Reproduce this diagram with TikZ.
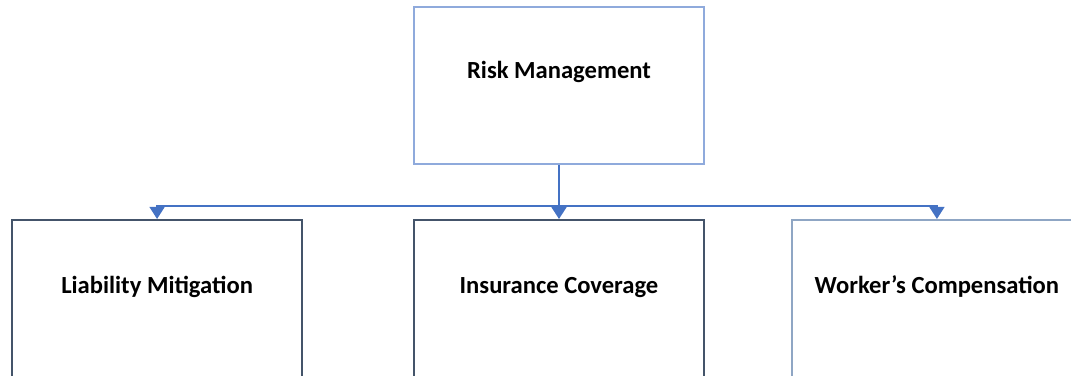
\documentclass[tikz,border=0pt]{standalone}
\usepackage{fontspec}
\setmainfont{Carlito}
\usepackage{tikz}
\usetikzlibrary{arrows.meta,positioning,calc}
\definecolor{topblue}{HTML}{8FAADC}
\definecolor{slate}{HTML}{44546A}
\definecolor{paleslate}{HTML}{8FA6C4}
\definecolor{linkblue}{HTML}{4472C4}

\begin{document}
\begin{tikzpicture}[
    node distance=1.08cm and 2.2cm,
    box/.style={draw, line width=1.1pt, fill=white, minimum width=5.8cm, inner sep=0pt, text height=0.3cm, text depth=0.6cm, align=center, font=\fontsize{14}{17}\selectfont\bfseries},
    topbox/.style={box, draw=topblue, minimum height=3.14cm},
    subbox/.style={box, draw=slate, minimum height=3.26cm},
    conn/.style={draw=linkblue, line width=1.1pt, -{Triangle[width=0.3cm,length=0.24cm]}}
]
\useasboundingbox (0,0) rectangle (21.42,-7.5);
\clip (0,0) rectangle (21.42,-7.5);

% top
\node[topbox] (risk) at (11.18,-1.71) {Risk Management};

% children
\node[subbox, below=of risk] (ins) {Insurance Coverage};
\node[subbox, left=of ins] (liab) {Liability Mitigation};
\node[subbox, draw=paleslate, right=1.72cm of ins] (work) {Worker’s Compensation};

% links
\coordinate (jn) at ($(risk.south)!0.76!(ins.north)$);
\draw[conn] (risk.south) -- (ins.north);
\draw[conn, line width=0.8pt] (jn) -| (liab.north);
\draw[conn, line width=0.8pt] (jn) -| (work.north);
\end{tikzpicture}
\end{document}
